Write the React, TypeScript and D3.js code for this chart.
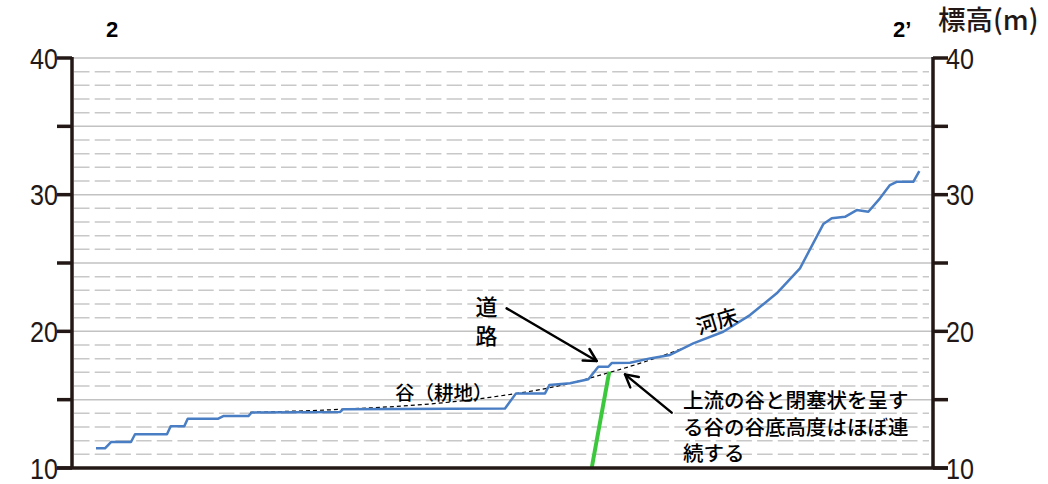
import React from "react";
import * as d3 from "d3";

// River bed profile (distance index 0-100 along section 2-2', elevation m)
const riverDist = [2.79, 3.83, 4.53, 6.85, 7.32, 11.03, 11.46, 13.04, 13.44, 16.99, 17.57, 20.48, 20.87, 31.13, 31.47, 50.29, 51.57, 54.94, 55.44, 57.84, 59.97, 61.13, 62.29, 62.68, 64.81, 67.13, 69.45, 72.16, 75.64, 78.75, 81.85, 84.55, 87.26, 88.24, 89.78, 91.14, 92.49, 93.84, 95.0, 95.78, 97.71, 98.41];
const riverElev = [11.44, 11.44, 11.9, 11.9, 12.47, 12.47, 13.05, 13.05, 13.61, 13.61, 13.8, 13.8, 14.06, 14.1, 14.29, 14.35, 15.46, 15.46, 16.07, 16.2, 16.49, 17.41, 17.41, 17.68, 17.7, 18.02, 18.27, 19.12, 19.97, 21.19, 22.78, 24.61, 27.85, 28.27, 28.38, 28.87, 28.75, 29.73, 30.7, 30.94, 30.94, 31.73];

// Valley floor (dashed) profile
const valleyDist = [20.67, 31.13, 44.29, 48.55, 57.84, 62.1, 67.13, 70.96];
const valleyElev = [14.07, 14.29, 14.85, 15.17, 16.2, 16.93, 17.9, 18.76];

// Green marker line
const greenDist = [60.36, 62.4];
const greenElev = [10, 17.05];

// Axis ticks
const labelTicks = [10, 20, 30, 40];
const tickMarks = [10, 15, 20, 25, 30, 35, 40];
const majorGrid = [15, 20, 25, 30, 35, 40];
const minorGrid = d3.range(11, 40).filter((v) => v % 5 !== 0);

// Annotation anchors (data coords)
const roadArrow = [[50.48, 21.68], [60.94, 17.83]];
const valleyArrow = [[69.65, 14.05], [64.23, 16.85]];
const roadLines = ["道", "路"];
const noteLines = ["上流の谷と閉塞状を呈す", "る谷の谷底高度はほぼ連", "続する"];

const W = 1048;
const H = 484;
const AX = "#231815";
const JP = "'Noto Sans CJK JP', 'Noto Sans CJK SC', sans-serif";
const NUM = "'Liberation Sans Narrow', 'Liberation Sans', Arial, sans-serif";

export default function App() {
  const x = d3.scaleLinear().domain([0, 100]).range([72, 933]);
  const y = d3.scaleLinear().domain([10, 40]).range([468, 58]);

  const river = d3
    .line<number>()
    .x((_, i) => x(riverDist[i]))
    .y((d) => y(d))(riverElev);
  const valley = d3
    .line<number>()
    .x((_, i) => x(valleyDist[i]))
    .y((d) => y(d))
    .curve(d3.curveMonotoneX)(valleyElev);
  const green = d3
    .line<number>()
    .x((_, i) => x(greenDist[i]))
    .y((d) => y(d))(greenElev);

  const arrow = (pts: number[][]) => {
    const x0 = x(pts[0][0]), y0 = y(pts[0][1]);
    const x1 = x(pts[1][0]), y1 = y(pts[1][1]);
    const ang = Math.atan2(y0 - y1, x0 - x1);
    const L = 14, a = 0.5;
    const p1 = [x1 + L * Math.cos(ang + a), y1 + L * Math.sin(ang + a)];
    const p2 = [x1 + L * Math.cos(ang - a), y1 + L * Math.sin(ang - a)];
    return (
      <g stroke="#000" strokeWidth={2.5} fill="none" strokeLinecap="round" strokeLinejoin="round">
        <line x1={x0} y1={y0} x2={x1} y2={y1} />
        <path d={`M${p1[0]},${p1[1]}L${x1},${y1}L${p2[0]},${p2[1]}`} />
      </g>
    );
  };

  const xl = x(0), xr = x(100);

  return (
    <svg
      width={W}
      height={H}
      style={{ position: "absolute", left: 0, top: 0, background: "#fff" }}
    >
      <rect width={W} height={H} fill="#fff" />
      {/* grid */}
      {minorGrid.map((v) => (
        <line key={"m" + v} x1={xl + 2} x2={xr - 4} y1={y(v)} y2={y(v)} stroke="#c8c8c8" strokeWidth={1.5} strokeDasharray="15.5 5.2" />
      ))}
      {majorGrid.map((v) => (
        <line key={"M" + v} x1={xl} x2={xr} y1={y(v)} y2={y(v)} stroke="#c2c2c2" strokeWidth={1.5} />
      ))}

      {/* profiles */}
      <path d={valley!} fill="none" stroke="#000" strokeWidth={1.2} strokeDasharray="4 3" />
      <path d={river!} fill="none" stroke="#4a7ec4" strokeWidth={2.5} strokeLinejoin="round" />
      <path d={green!} fill="none" stroke="#3cc83c" strokeWidth={4} />

      {/* axes */}
      <g stroke={AX} strokeWidth={3.5}>
        <line x1={xl} x2={xl} y1={y(40) - 1} y2={y(10)} />
        <line x1={xr} x2={xr} y1={y(40) - 1} y2={y(10)} />
        <line x1={xl - 15} x2={xr + 15} y1={y(10)} y2={y(10)} />
        {tickMarks.map((v) => (
          <g key={"t" + v}>
            <line x1={xl - 15} x2={xl} y1={y(v)} y2={y(v)} />
            <line x1={xr} x2={xr + 15} y1={y(v)} y2={y(v)} />
          </g>
        ))}
      </g>
      <g fontFamily={NUM} fontSize={30} fill={AX}>
        {labelTicks.map((v) => (
          <g key={"l" + v}>
            <text x={58} y={y(v)} textAnchor="end" dominantBaseline="central" textLength={28} lengthAdjust="spacingAndGlyphs">
              {v}
            </text>
            <text x={946} y={y(v)} textAnchor="start" dominantBaseline="central" textLength={28} lengthAdjust="spacingAndGlyphs">
              {v}
            </text>
          </g>
        ))}
      </g>

      {/* section labels */}
      <text x={112} y={37} textAnchor="middle" fontFamily="'Liberation Sans', Arial, sans-serif" fontWeight="bold" fontSize={22}>
        2
      </text>
      <text x={893} y={37} textAnchor="start" fontFamily="'Liberation Sans', Arial, sans-serif" fontWeight="bold" fontSize={22}>
        2’
      </text>
      <text x={938} y={30} fontFamily={JP} fontSize={27.5} fontWeight={500} fill={AX}>
        標高(m)
      </text>

      {/* annotations */}
      {arrow(roadArrow)}
      {arrow(valleyArrow)}
      <g fontFamily={JP} fill="#000" fontWeight={500}>
        <text x={486.5} y={305} textAnchor="middle" dominantBaseline="central" fontSize={22}>
          {roadLines.map((t, i) => (
            <tspan key={i} x={486.5} dy={i === 0 ? 0 : 28.5}>
              {t}
            </tspan>
          ))}
        </text>
        <text x={395} y={391} dominantBaseline="central" fontSize={19.5}>谷（耕地）</text>
        <text x={716.5} y={320} textAnchor="middle" dominantBaseline="central" fontSize={21} transform="rotate(-17 716.5 320)">河床</text>
        <text x={683} y={399} dominantBaseline="central" fontSize={20.5}>
          {noteLines.map((t, i) => (
            <tspan key={i} x={683} dy={i === 0 ? 0 : 26.5}>
              {t}
            </tspan>
          ))}
        </text>
      </g>
    </svg>
  );
}
